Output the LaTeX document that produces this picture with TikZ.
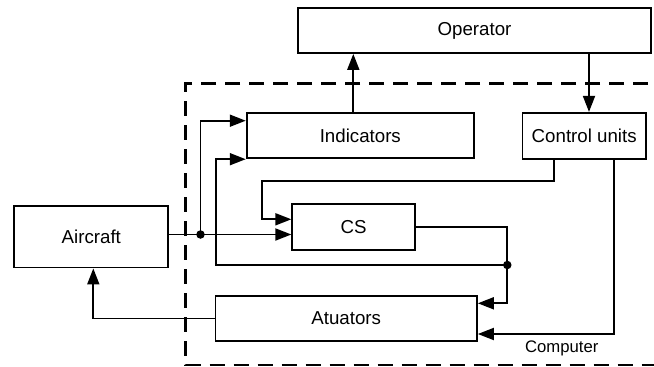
\documentclass[tikz,border=0pt]{standalone}
\usepackage{fontspec}
\setmainfont{Liberation Sans}
\usetikzlibrary{arrows.meta}
\begin{document}
\begin{tikzpicture}[x=1pt,y=-1pt,
  blk/.style={draw=black,line width=1.8pt,inner sep=0pt,anchor=center,
    font=\fontsize{18.7}{22}\selectfont},
  conn/.style={line width=1.8pt},
  arr/.style={conn,-{Triangle[length=16pt,width=12pt]}},
  dot/.style={circle,fill=black,inner sep=0pt,minimum size=8.5pt},
  frame/.style={line width=2.8pt,dash pattern=on 15pt off 9pt}]
\useasboundingbox (0,0) rectangle (654,367);
\clip (0,0) rectangle (654,367);
% boxes
\node[blk,minimum width=353pt,minimum height=45pt] (op) at (474.5,30.5) {Operator};
\node[blk,minimum width=227.3pt,minimum height=45.6pt] (ind) at (360.3,135.5) {Indicators};
\node[blk,minimum width=123.5pt,minimum height=46pt] (cu) at (584.2,135.8) {Control units};
\node[blk,minimum width=122.7pt,minimum height=46pt] (cs) at (353.6,227) {CS};
\node[blk,minimum width=154pt,minimum height=61.5pt] (ac) at (91.3,236.8) {Aircraft};
\node[blk,minimum width=261.5pt,minimum height=45.5pt] (at) at (346.2,318.5) {Atuators};
% dashed frame
\draw[frame] (720,83.3) -- (185.7,83.3) -- (185.7,365) -- (720,365);
\node[font=\fontsize{16.7}{20}\selectfont,inner sep=0pt] (comp) at (561.7,348.3) {Computer};
% coordinates
\coordinate (indout) at ([xshift=-7pt]ind.north);
\coordinate (cuin) at ([xshift=4.8pt]cu.north);
\coordinate (csin1) at ([yshift=7.7pt]cs.west);
\coordinate (csin2) at ([yshift=-7.5pt]cs.west);
\coordinate (indin1) at ([yshift=14.8pt]ind.west);
\coordinate (atuin1) at ([yshift=15.2pt]at.east);
\coordinate (atuin2) at ([yshift=-15.5pt]at.east);
\coordinate (cuout1) at ([xshift=-30.5pt]cu.south);
\coordinate (cuout2) at ([xshift=30.1pt]cu.south);
\coordinate (acin) at ([xshift=2pt]ac.south);
\coordinate (j1) at (200.5,234.5);
\coordinate (j2) at (507.3,265);
\coordinate (c2) at (215.7,265);
\coordinate (c3) at (262.3,181.3);
% connectors
\draw[arr] (indout) -- (indout |- op.south);
\draw[arr] (cuin |- op.south) -- (cuin);
\draw[arr] (ac.east |- csin2) -- (csin2);
\draw[arr] (j1) |- (indin1);
\draw[arr] (cs.east) -| (j2) |- (atuin1);
\draw[arr] (j2) -- (c2) |- (ind.south west);
\draw[arr] (cuout1) |- (c3) |- (csin1);
\draw[arr] (cuout2) |- (atuin2);
\draw[arr] (at.west) -| (acin);
\node[dot] at (j1) {};
\node[dot] at (j2) {};
\end{tikzpicture}
\end{document}
